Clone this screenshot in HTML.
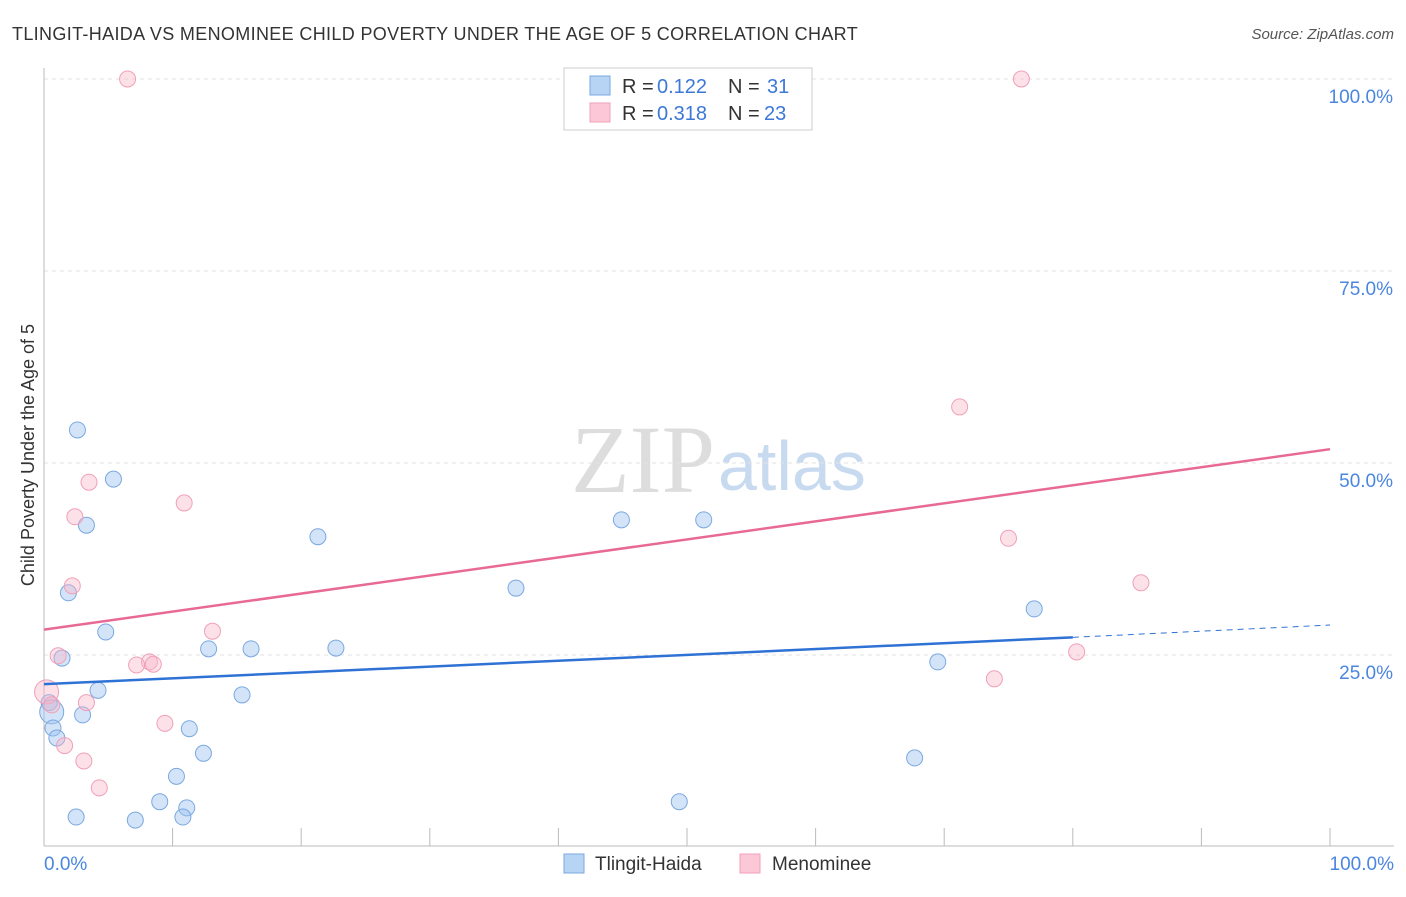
<!DOCTYPE html>
<html><head><meta charset="utf-8"><style>
body{margin:0;background:#fff;font-family:"Liberation Sans",sans-serif;}
svg text{font-family:"Liberation Sans",sans-serif;}
</style></head><body>
<svg width="1406" height="892">
<text x="12" y="40" font-size="18" fill="#333" letter-spacing="0.3" textLength="846">TLINGIT-HAIDA VS MENOMINEE CHILD POVERTY UNDER THE AGE OF 5 CORRELATION CHART</text>
<text x="1394" y="39" font-size="15" fill="#555" font-style="italic" text-anchor="end">Source: ZipAtlas.com</text>
<text x="34" y="455" font-size="18" fill="#333" text-anchor="middle" transform="rotate(-90 34 455)">Child Poverty Under the Age of 5</text>
<text x="715" y="492" font-size="96" fill="#ddd" text-anchor="end" style="font-family:'Liberation Serif',serif">ZIP</text>
<text x="718" y="490" font-size="70" fill="#c8daf0">atlas</text>
<g id="axes"></g>
<g id="marks"></g>
<g>
<rect x="564" y="68" width="248" height="62" fill="#fff" stroke="#ccc"/>
<rect x="590" y="76" width="20" height="19" fill="#b8d4f5" stroke="#7aa8e0"/>
<text x="622" y="93" font-size="20" fill="#333">R =</text>
<text x="657" y="93" font-size="20" fill="#3b78d8">0.122</text>
<text x="728" y="93" font-size="20" fill="#333">N =</text>
<text x="767" y="93" font-size="20" fill="#3b78d8">31</text>
<rect x="590" y="103" width="20" height="19" fill="#fcc8d8" stroke="#f0a0b8"/>
<text x="622" y="120" font-size="20" fill="#333">R =</text>
<text x="657" y="120" font-size="20" fill="#3b78d8">0.318</text>
<text x="728" y="120" font-size="20" fill="#333">N =</text>
<text x="764" y="120" font-size="20" fill="#3b78d8">23</text>
</g>
<g>
<rect x="564" y="854" width="20" height="19" fill="#b8d4f5" stroke="#7aa8e0"/>
<text x="595" y="870" font-size="19" fill="#333">Tlingit-Haida</text>
<rect x="740" y="854" width="20" height="19" fill="#fcc8d8" stroke="#f0a0b8"/>
<text x="772" y="870" font-size="19" fill="#333">Menominee</text>
</g>
</svg>
<script>
const blueX=[2.6,5.4,3.3,21.3,44.9,51.3,36.7,1.9,77.0,4.8,12.8,16.1,22.7,1.4,69.5,4.2,15.4,0.4,0.6,3.0,0.7,11.3,1.0,12.4,67.7,10.3,9.0,49.4,11.1,2.5,10.8,7.1];
const blueY=[54.3,47.9,41.9,40.4,42.6,42.6,33.7,33.1,31.0,28.0,25.8,25.8,25.9,24.6,24.1,20.4,19.8,18.8,17.6,17.2,15.5,15.4,14.2,12.2,11.6,9.2,5.9,5.9,5.1,3.9,3.9,3.5];
const pinkX=[6.5,76.0,71.2,3.5,10.9,2.4,75.0,85.3,2.2,13.1,80.3,1.1,8.2,8.5,7.2,73.9,0.2,0.6,3.3,9.4,1.6,3.1,4.3];
const pinkY=[100,100,57.3,47.5,44.8,43.0,40.2,34.4,34.0,28.1,25.4,24.9,24.1,23.8,23.7,21.9,20.2,18.5,18.8,16.1,13.2,11.2,7.7];
const blueTrend=[[0,21.2],[80,27.3],[100,28.9]];
const pinkTrend=[[0,28.3],[100,51.8]];
const yTicks=[25,50,75,100];
const yTickLabels=["25.0%","50.0%","75.0%","100.0%"];
const xTicks=[0,10,20,30,40,50,60,70,80,90,100];
const NS="http://www.w3.org/2000/svg";
const sx=v=>44+v*12.86, sy=v=>847-v*7.68;
function mk(t,a,p){const e=document.createElementNS(NS,t);for(const k in a)e.setAttribute(k,a[k]);p.appendChild(e);return e;}
const ax=document.getElementById('axes'), mg=document.getElementById('marks');
yTicks.forEach((v,i)=>{
 const l=mk('line',{x1:44,x2:1394,y1:sy(v),y2:sy(v),stroke:'#e2e2e2','stroke-dasharray':'4,4'},ax);
 
 
 const t=mk('text',{x:1393,y:sy(v)+24,'font-size':19,fill:'#4a86e0','text-anchor':'end'},ax);t.textContent=yTickLabels[i];
 
 
});
const xl=mk('line',{x1:44,x2:1394,y1:846,y2:846,stroke:'#bbb'},ax);


const yl=mk('line',{x1:44,x2:44,y1:68,y2:846,stroke:'#bbb'},ax);


xTicks.forEach(v=>{const l=mk('line',{x1:sx(v),x2:sx(v),y1:828,y2:846,stroke:'#bbb'},ax);
 
 });
[[0,'0.0%','start',44],[100,'100.0%','end',1394]].forEach(d=>{const t=mk('text',{x:d[3],y:870,'font-size':19,fill:'#4a86e0','text-anchor':d[2]},ax);t.textContent=d[1];
 
 });
blueX.forEach((x,i)=>{const c=mk('circle',{cx:sx(x),cy:sy(blueY[i]),r:i==18?12:8,fill:'rgba(160,196,240,0.45)',stroke:'#7aa8e0','stroke-width':1},mg);
 
 });
pinkX.forEach((x,i)=>{const c=mk('circle',{cx:sx(x),cy:sy(pinkY[i]),r:i==16?12:8,fill:'rgba(250,180,200,0.4)',stroke:'#f0a0b8','stroke-width':1},mg);
 
 });
const b1=mk('line',{x1:sx(blueTrend[0][0]),y1:sy(blueTrend[0][1]),x2:sx(blueTrend[1][0]),y2:sy(blueTrend[1][1]),stroke:'#2f72d6','stroke-width':2.5},mg);


const b2=mk('line',{x1:sx(blueTrend[1][0]),y1:sy(blueTrend[1][1]),x2:sx(blueTrend[2][0]),y2:sy(blueTrend[2][1]),stroke:'#2f72d6','stroke-width':1,'stroke-dasharray':'6,5'},mg);


const p1=mk('line',{x1:sx(pinkTrend[0][0]),y1:sy(pinkTrend[0][1]),x2:sx(pinkTrend[1][0]),y2:sy(pinkTrend[1][1]),stroke:'#e86a94','stroke-width':2.5},mg);


</script>
</body></html>
